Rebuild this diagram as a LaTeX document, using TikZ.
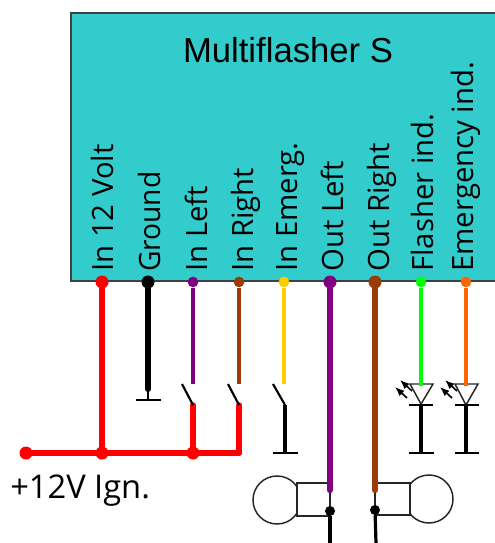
\documentclass[tikz,border=0pt]{standalone}
\usepackage{fontspec}
\setmainfont{Open Sans}
\newfontfamily\titlefont{Liberation Sans}
\usepackage{tikz}
\usetikzlibrary{arrows.meta}
\definecolor{boxcyan}{RGB}{51,204,204}
\definecolor{wirepurple}{RGB}{128,0,128}
\definecolor{wirebrown}{RGB}{153,60,10}
\definecolor{wireyellow}{RGB}{255,204,0}
\definecolor{wireorange}{RGB}{255,102,0}

\begin{document}
\begin{tikzpicture}[x=0.75pt, y=-0.75pt,
    pin/.style={circle, inner sep=0pt, minimum size=#1},
    pin/.default=9.75pt,
    wire/.style={line width=3.6pt, line cap=round},
    thinwire/.style={line width=3.6pt},
    lever/.style={line width=1.6pt, black},
    bar/.style={line width=1.9pt, black},
    lamp/.style={line width=1.1pt, black!85},
    ledarrow/.style={line width=1.2pt, -{Latex[length=7pt,width=5.5pt]}},
    pinlabel/.style={rotate=90, anchor=base west, inner sep=0pt, font=\fontsize{22}{22}\selectfont}]
    \useasboundingbox (0,0) rectangle (495,543);

    % module
    \fill[white] (0,0) rectangle (495,543);
    \path[fill=boxcyan, draw=black!75, line width=1.3pt] (496,13) -- (71,13) -- (71,281) -- (496,281);
    \node[inner sep=0pt, font=\titlefont\fontsize{26}{26}\selectfont] (title) at (288,50) {Multiflasher S};

    % labels
    \node[pinlabel] (l12) at (113,272) {In 12 Volt};
    \node[pinlabel, xscale=0.96] (lground) at (160,272) {Ground};
    \node[pinlabel] (lleft) at (207,272) {In Left};
    \node[pinlabel] (lright) at (253,272) {In Right};
    \node[pinlabel] (lemerg) at (297,272) {In Emerg.};
    \node[pinlabel] (loutl) at (343,272) {Out Left};
    \node[pinlabel] (loutr) at (389,272) {Out Right};
    \node[pinlabel] (lflash) at (433,272) {Flasher ind.};
    \node[pinlabel] (lemind) at (473,272) {Emergency ind.};

    % pins
    \node[pin, fill=red] (p12) at (102,282) {};
    \node[pin, fill=black] (pground) at (148,282) {};
    \node[pin=8pt, fill=wirepurple] (pleft) at (193,282) {};
    \node[pin=8pt, fill=wirebrown] (pright) at (239,282) {};
    \node[pin=8pt, fill=wireyellow] (pemerg) at (284,282) {};
    \node[pin, fill=wirepurple] (poutl) at (330,282) {};
    \node[pin, fill=wirebrown] (poutr) at (375,282) {};
    \node[pin=8pt, fill=green] (pflash) at (421,282) {};
    \node[pin=8pt, fill=wireorange] (pemind) at (466,282) {};

    % +12V bus
    \node[pin, fill=red] (feed) at (26,453) {};
    \node[pin, fill=red] (j12) at (102,453) {};
    \node[pin, fill=red] (jleft) at (193,453) {};
    \coordinate (jright) at (239,453);
    \draw[wire, red, line width=5.2pt] (p12) -- (j12);
    \draw[wire, red, line width=4.5pt] (feed) -- (jright);
    \draw[wire, red, line width=4.2pt] (jleft) -- (193,405) coordinate (sl);
    \draw[wire, red, line width=4.2pt] (jright) -- (239,405) coordinate (sr);

    % ground
    \coordinate (gnd) at (148,400);
    \draw[wire, black, line width=4.6pt] (pground) -- (148,389);
    \draw[lever] (148,389) -- (gnd);
    \draw[bar] (136,400) -- (161,400);

    % switches
    \coordinate (tl) at (193,384);
    \coordinate (tr) at (239,384);
    \coordinate (te) at (284,384);
    \draw[thinwire, wirepurple] (pleft) -- (tl);
    \draw[thinwire, wirebrown] (pright) -- (tr);
    \draw[thinwire, wireyellow] (pemerg) -- (te);
    \draw[lever] (sl) -- (182,384);
    \draw[lever] (sr) -- (228,384);
    \draw[lever] (285,405) coordinate (se) -- (273,384);
    \draw[thinwire, black] (se) -- (285,453) coordinate (ge);
    \draw[bar] (273,453) -- (298,453);

    % bulbs
    \draw[lamp] (277,500) circle (24);
    \draw[lamp, fill=white] (297,483) rectangle (330,516);
    \draw[lamp] (429,499) circle (24);
    \draw[lamp, fill=white] (375,483) rectangle (410,515);

    % outputs
    \coordinate (ol) at (330,490);
    \coordinate (or) at (375,490);
    \node[pin=7.5pt, fill=black] (dl) at (330,511) {};
    \node[pin=7.5pt, fill=black] (dr) at (375,510) {};
    \draw[wire, wirepurple, line width=4.8pt] (poutl) -- (ol);
    \draw[wire, wirebrown, line width=4.8pt] (poutr) -- (or);
    \draw[line width=2.4pt] (dl) -- (330,543);
    \draw[line width=2.4pt] (dr) -- (376,543);

    % indicators
    \coordinate (af) at (421,386);
    \coordinate (ae) at (466,386);
    \draw[lamp] (410,384) -- (433,384) -- (421,404) -- cycle;
    \draw[lamp] (455,384) -- (478,384) -- (466,405) -- cycle;
    \draw[thinwire, green] (pflash) -- (af);
    \draw[thinwire, wireorange] (pemind) -- (ae);
    \draw[bar, line width=1.3pt] (409,405) -- (433,405);
    \draw[bar, line width=1.3pt] (455,405) -- (479,405);
    \draw[thinwire, black, line width=3.2pt] (421,405) -- (421,453);
    \draw[thinwire, black, line width=3.2pt] (466,405) -- (466,453);
    \draw[bar] (409,453) -- (434,453);
    \draw[bar] (455,453) -- (479,453);
    \draw[ledarrow] (412,391) -- (400,380);
    \draw[ledarrow] (407,398) -- (395,387);
    \draw[ledarrow] (457,391) -- (445,380);
    \draw[ledarrow] (452,398) -- (440,387);

    \node[inner sep=0pt, anchor=west, font=\fontsize{24.5}{24.5}\selectfont] (ign) at (10,491) {+12V Ign.};
\end{tikzpicture}
\end{document}
